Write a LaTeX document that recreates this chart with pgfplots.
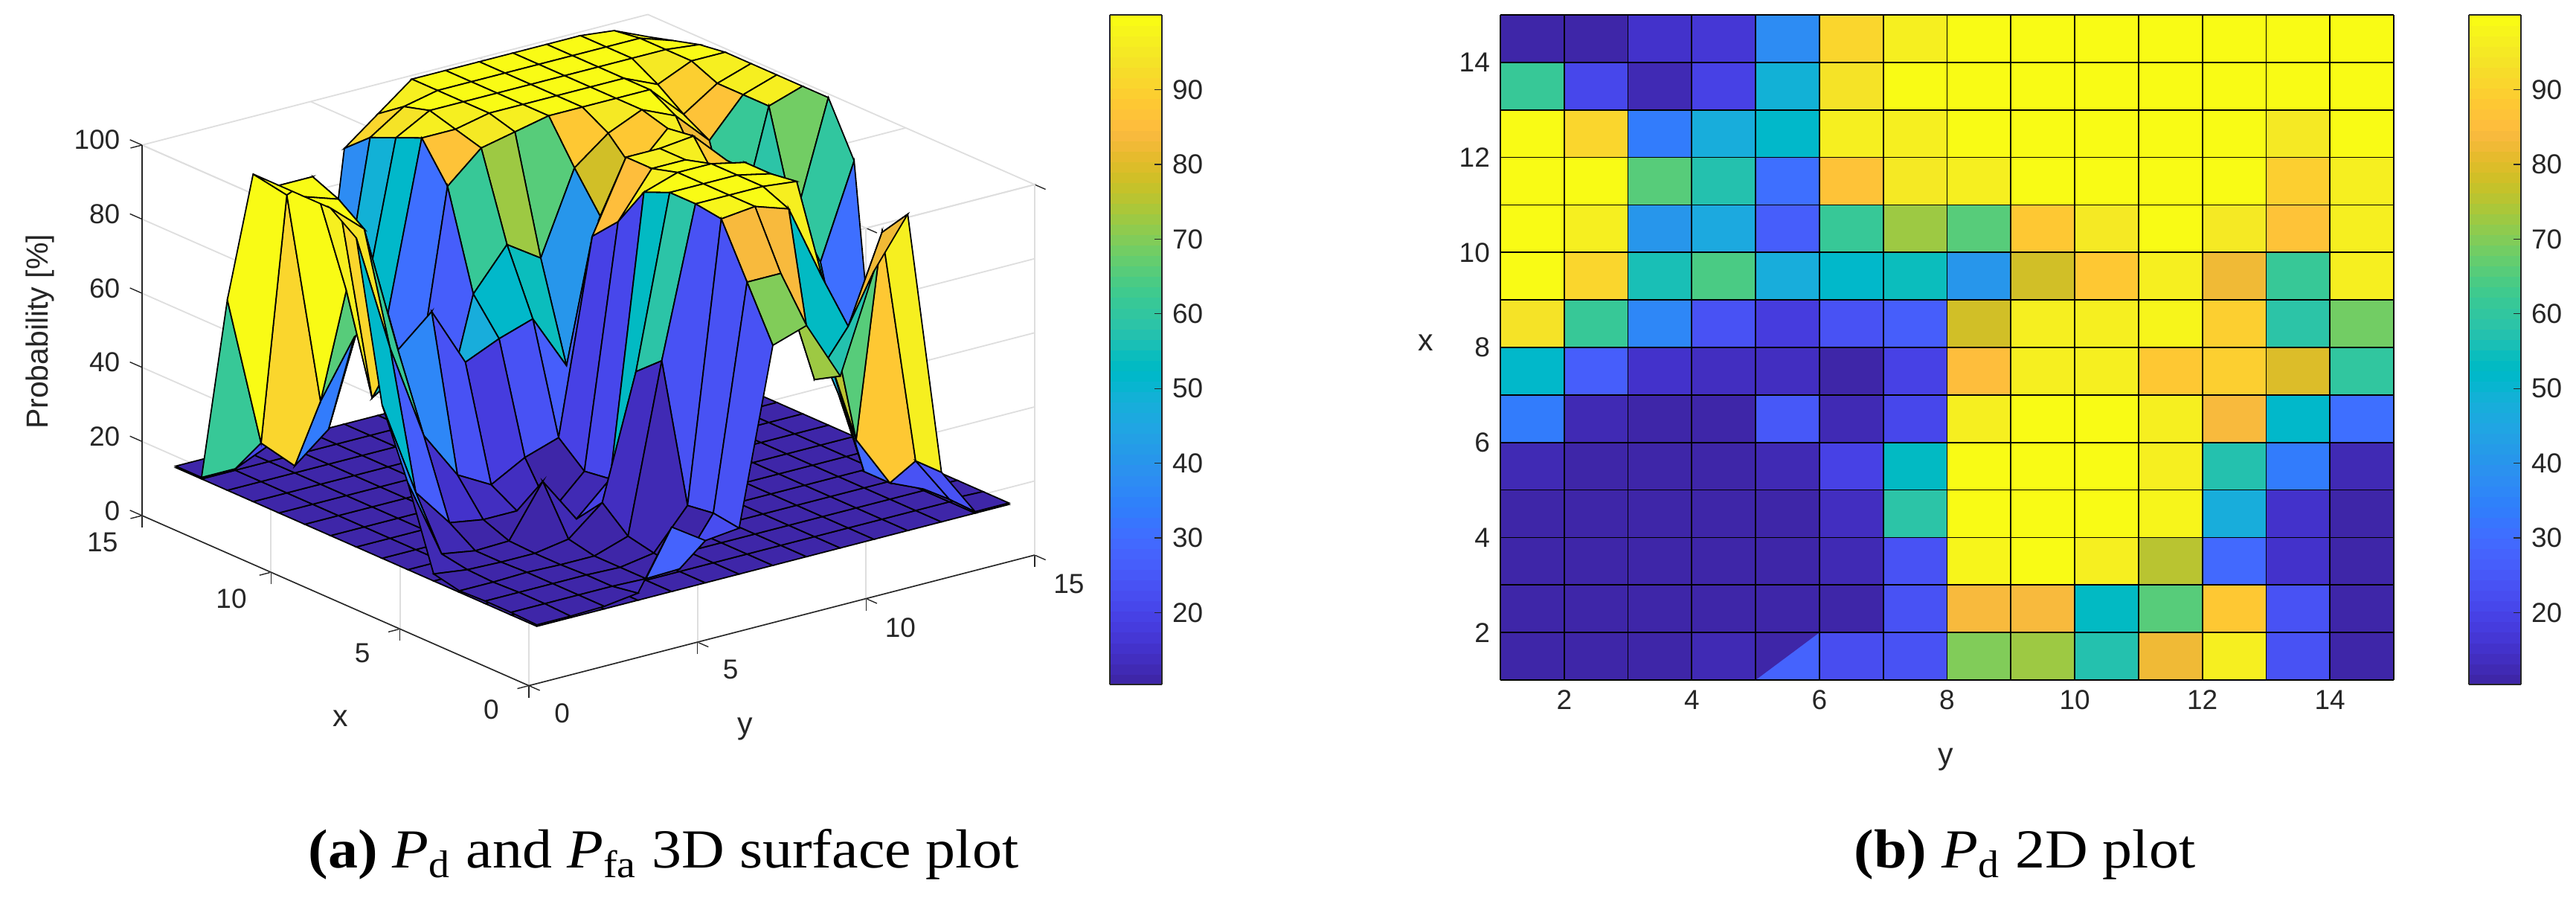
\documentclass[border=0pt]{standalone}
\usepackage{fontspec}
\usepackage{pgfplots}
\usepackage{pgfplotstable}
\pgfplotsset{compat=1.18}
\setmainfont{Liberation Sans}
\newfontfamily\capfont{Liberation Serif}
\definecolor{axc}{HTML}{262626}
\definecolor{darkcell}{rgb}{0.2422,0.1504,0.6603}
\pgfplotsset{colormap={parula}{
rgb=(0.2422,0.1504,0.6603) rgb=(0.2504,0.1650,0.7076) rgb=(0.2578,0.1818,0.7511) rgb=(0.2647,0.1978,0.7952)
rgb=(0.2706,0.2147,0.8364) rgb=(0.2751,0.2342,0.8710) rgb=(0.2783,0.2559,0.8991) rgb=(0.2803,0.2782,0.9221)
rgb=(0.2813,0.3006,0.9414) rgb=(0.2810,0.3228,0.9579) rgb=(0.2795,0.3447,0.9717) rgb=(0.2760,0.3667,0.9829)
rgb=(0.2699,0.3892,0.9906) rgb=(0.2602,0.4123,0.9952) rgb=(0.2440,0.4358,0.9988) rgb=(0.2206,0.4603,0.9973)
rgb=(0.1963,0.4847,0.9892) rgb=(0.1834,0.5074,0.9798) rgb=(0.1786,0.5289,0.9682) rgb=(0.1764,0.5499,0.9520)
rgb=(0.1687,0.5703,0.9359) rgb=(0.1540,0.5902,0.9218) rgb=(0.1460,0.6091,0.9079) rgb=(0.1380,0.6276,0.8973)
rgb=(0.1248,0.6459,0.8883) rgb=(0.1113,0.6635,0.8763) rgb=(0.0952,0.6798,0.8598) rgb=(0.0689,0.6948,0.8394)
rgb=(0.0297,0.7082,0.8163) rgb=(0.0036,0.7203,0.7917) rgb=(0.0067,0.7312,0.7660) rgb=(0.0433,0.7411,0.7394)
rgb=(0.0964,0.7500,0.7120) rgb=(0.1408,0.7584,0.6842) rgb=(0.1717,0.7670,0.6554) rgb=(0.1938,0.7758,0.6251)
rgb=(0.2161,0.7843,0.5923) rgb=(0.2470,0.7918,0.5567) rgb=(0.2906,0.7973,0.5188) rgb=(0.3406,0.8008,0.4789)
rgb=(0.3909,0.8029,0.4354) rgb=(0.4456,0.8024,0.3909) rgb=(0.5044,0.7993,0.3480) rgb=(0.5616,0.7942,0.3045)
rgb=(0.6174,0.7876,0.2612) rgb=(0.6720,0.7793,0.2227) rgb=(0.7242,0.7698,0.1910) rgb=(0.7738,0.7598,0.1646)
rgb=(0.8203,0.7498,0.1535) rgb=(0.8634,0.7406,0.1596) rgb=(0.9035,0.7330,0.1774) rgb=(0.9393,0.7288,0.2100)
rgb=(0.9728,0.7298,0.2394) rgb=(0.9956,0.7434,0.2371) rgb=(0.9970,0.7659,0.2199) rgb=(0.9952,0.7861,0.1990)
rgb=(0.9892,0.8135,0.1884) rgb=(0.9786,0.8386,0.1766) rgb=(0.9676,0.8639,0.1643) rgb=(0.9610,0.8890,0.1537)
rgb=(0.9597,0.9135,0.1423) rgb=(0.9628,0.9373,0.1265) rgb=(0.9691,0.9606,0.1064) rgb=(0.9769,0.9839,0.0805)
}}
% x y Pd Pfa
\pgfplotstableread[row sep=\\]{
x y pd pfa\\
1 1 11 10.6\\ 1 2 11 10.6\\ 1 3 11.3 10.6\\ 1 4 12.5 10.6\\ 1 5 28 10.6\\ 1 6 22 10.6\\ 1 7 23 10.6\\ 1 8 70 10.6\\ 1 9 73 10.6\\ 1 10 57 10.6\\ 1 11 83 10.6\\ 1 12 96 10.6\\ 1 13 24 10.6\\ 1 14 11 10.6\\ 1 15 11 10.6\\
2 1 11.3 10.6\\ 2 2 11.3 10.6\\ 2 3 11.3 10.6\\ 2 4 11.3 10.6\\ 2 5 11 10.6\\ 2 6 11.3 10.6\\ 2 7 24 10.6\\ 2 8 84 10.6\\ 2 9 84 10.6\\ 2 10 53 10.6\\ 2 11 65 10.6\\ 2 12 88 10.6\\ 2 13 24 10.6\\ 2 14 11.3 10.6\\ 2 15 11 10.6\\
3 1 11.3 10.6\\ 3 2 11.3 10.6\\ 3 3 11.3 10.6\\ 3 4 11.3 10.6\\ 3 5 11 10.6\\ 3 6 12.5 10.6\\ 3 7 23 10.6\\ 3 8 98 10.6\\ 3 9 99 10.6\\ 3 10 96 10.6\\ 3 11 75 10.6\\ 3 12 29 10.6\\ 3 13 15 10.6\\ 3 14 11 10.6\\ 3 15 11 10.6\\
4 1 11 10.6\\ 4 2 11 10.6\\ 4 3 11.3 10.6\\ 4 4 11 10.6\\ 4 5 11 10.6\\ 4 6 14 10.6\\ 4 7 59 10.6\\ 4 8 99 10.6\\ 4 9 99 10.6\\ 4 10 99 10.6\\ 4 11 98 10.6\\ 4 12 47 10.6\\ 4 13 15 10.6\\ 4 14 11.3 10.6\\ 4 15 11 10.6\\
5 1 12.5 10.6\\ 5 2 11.3 10.6\\ 5 3 11 10.6\\ 5 4 11 10.6\\ 5 5 12.5 10.6\\ 5 6 20 10.6\\ 5 7 53 10.6\\ 5 8 99 10.6\\ 5 9 99 10.6\\ 5 10 99 10.6\\ 5 11 97 10.6\\ 5 12 57 10.6\\ 5 13 33 10.6\\ 5 14 12.5 10.6\\ 5 15 11 10.6\\
6 1 34 10.6\\ 6 2 12.5 10.6\\ 6 3 11 10.6\\ 6 4 11.3 10.6\\ 6 5 25 10.6\\ 6 6 12.5 10.6\\ 6 7 21 10.6\\ 6 8 96 10.6\\ 6 9 99 10.6\\ 6 10 99 10.6\\ 6 11 97 10.6\\ 6 12 84 10.6\\ 6 13 51 10.6\\ 6 14 31 10.6\\ 6 15 11 10.6\\
7 1 52 10.6\\ 7 2 26 10.6\\ 7 3 15.5 10.6\\ 7 4 14 10.6\\ 7 5 14 10.6\\ 7 6 11.3 10.6\\ 7 7 20 10.6\\ 7 8 85 10.6\\ 7 9 97 10.6\\ 7 10 97 10.6\\ 7 11 88 10.6\\ 7 12 89 10.6\\ 7 13 80 10.6\\ 7 14 60 10.6\\ 7 15 85 10.6\\
8 1 94 10.6\\ 8 2 62 10.6\\ 8 3 36 10.6\\ 8 4 23 10.6\\ 8 5 18 10.6\\ 8 6 23 10.6\\ 8 7 26 10.6\\ 8 8 78 10.6\\ 8 9 97 10.6\\ 8 10 97 10.6\\ 8 11 98 10.6\\ 8 12 89 10.6\\ 8 13 59 10.6\\ 8 14 68 10.6\\ 8 15 99 10.6\\
9 1 99 10.6\\ 9 2 91 10.6\\ 9 3 56 10.6\\ 9 4 64 10.6\\ 9 5 48 10.6\\ 9 6 52 10.6\\ 9 7 55 10.6\\ 9 8 40 10.6\\ 9 9 78 10.6\\ 9 10 88 10.6\\ 9 11 97 10.6\\ 9 12 83 10.6\\ 9 13 62 10.6\\ 9 14 96 10.6\\ 9 15 99 10.6\\
10 1 99 10.6\\ 10 2 96 10.6\\ 10 3 40 10.6\\ 10 4 46 10.6\\ 10 5 26 10.6\\ 10 6 61 10.6\\ 10 7 72 10.6\\ 10 8 66 10.6\\ 10 9 88 10.6\\ 10 10 95 10.6\\ 10 11 99 10.6\\ 10 12 95 10.6\\ 10 13 86 10.6\\ 10 14 96 10.6\\ 10 15 99 10.6\\
11 1 99 10.6\\ 11 2 99 10.6\\ 11 3 66 10.6\\ 11 4 57 10.6\\ 11 5 30 10.6\\ 11 6 87 10.6\\ 11 7 95 10.6\\ 11 8 97 10.6\\ 11 9 99 10.6\\ 11 10 99 10.6\\ 11 11 99 10.6\\ 11 12 99 10.6\\ 11 13 90 10.6\\ 11 14 96 10.6\\ 11 15 99 10.6\\
12 1 99 10.6\\ 12 2 91 10.6\\ 12 3 33 10.6\\ 12 4 48 10.6\\ 12 5 52 10.6\\ 12 6 97 10.6\\ 12 7 97 10.6\\ 12 8 99 10.6\\ 12 9 99 10.6\\ 12 10 99 10.6\\ 12 11 99 10.6\\ 12 12 99 10.6\\ 12 13 95 10.6\\ 12 14 99 10.6\\ 12 15 99 10.6\\
13 1 62 10.6\\ 13 2 21 10.6\\ 13 3 12.5 10.6\\ 13 4 20 10.6\\ 13 5 49 10.6\\ 13 6 94 10.6\\ 13 7 99 10.6\\ 13 8 99 10.6\\ 13 9 99 10.6\\ 13 10 99 10.6\\ 13 11 99 10.6\\ 13 12 99 10.6\\ 13 13 99 10.6\\ 13 14 99 10.6\\ 13 15 98 10.6\\
14 1 11 10.6\\ 14 2 11 10.6\\ 14 3 15 10.6\\ 14 4 17 10.6\\ 14 5 38 10.6\\ 14 6 91 10.6\\ 14 7 97 10.6\\ 14 8 99 10.6\\ 14 9 99 10.6\\ 14 10 99 10.6\\ 14 11 99 10.6\\ 14 12 99 10.6\\ 14 13 99 10.6\\ 14 14 99 10.6\\ 14 15 96 10.6\\
15 1 11 10.6\\ 15 2 11 10.6\\ 15 3 11 10.6\\ 15 4 11 10.6\\ 15 5 11 10.6\\ 15 6 85 10.6\\ 15 7 92 10.6\\ 15 8 99 10.6\\ 15 9 99 10.6\\ 15 10 99 10.6\\ 15 11 99 10.6\\ 15 12 99 10.6\\ 15 13 99 10.6\\ 15 14 98 10.6\\ 15 15 94 10.6\\
}\pdtable
\pgfplotsset{
  common/.style={
    colormap name=parula, colormap access=piecewise constant,
    point meta min=10.4, point meta max=100,
    tick label style={font=\fontsize{9.25}{11}\selectfont, text=axc},
    label style={font=\fontsize{10.25}{12}\selectfont, text=axc},
    /pgf/number format/assume math mode=true,
    every tick/.style={draw=axc, line width=0.35pt},
  },
  cbar/.style={
    common, hide axis, scale only axis, width=17.5pt, height=225pt,
    xmin=0, xmax=1, ymin=0, ymax=1,
    colorbar shift/.style={},
    colorbar, colorbar sampled,
    colorbar style={
      at={(parent axis.south west)}, anchor=south west,
      width=17.5pt, height=225pt, samples=65,
      ymin=10.4, ymax=100, ytick={20,30,...,90},
      ytick pos=right, yticklabel pos=right, ytick align=inside,
      major tick length=2.5pt,
      axis line style={draw=axc, line width=0.4pt},
      tick label style={font=\fontsize{9.25}{11}\selectfont, text=axc},
      /pgf/number format/assume math mode=true,
    },
  },
}
\def\u{0.25pt}
\begin{document}
\begin{tikzpicture}
\path[use as bounding box] (0,0) rectangle (865.75pt,301.75pt);
% ---- 3D surface
\begin{axis}[common,
  at={(711*\u,{(1207-921.6)*\u})}, anchor=origin,
  x={(-8.6675pt,3.81pt)}, y={(11.3325pt,2.925pt)}, z={(0pt,1.245pt)},
  xmin=0, xmax=15, ymin=0, ymax=15, zmin=0, zmax=100,
  xtick={0,5,10,15}, ytick={0,5,10,15}, ztick={0,20,...,100},
  xtick pos=left, ytick pos=left, ztick pos=left,
  grid=major, grid style={draw=black!13, line width=0.45pt},
  axis line style={draw=none}, clip=false, tick align=outside, major tick length=4pt,
  ztick style={draw=none},
  xticklabel style={xshift=-3.3pt},
  yticklabel style={xshift=2.8pt,yshift=-0.5pt},
  zticklabel style={yshift=2pt},
  xlabel={x}, ylabel={y}, zlabel={Probability [\%]},
  xlabel style={at={(axis cs:0.885,-4.9,0)},anchor=center,rotate=0},
  ylabel style={at={(axis cs:-5.52,2.2,0)},anchor=center,rotate=0},
  zlabel style={at={(axis cs:15,-3.02,56.7)},anchor=center,rotate=0},
  unbounded coords=jump,
]
\addplot3[draw=axc, line width=0.4pt, forget plot] coordinates {(0,0,0)(15,0,0)};
\addplot3[draw=axc, line width=0.4pt, forget plot] coordinates {(0,0,0)(0,15,0)};
\addplot3[draw=axc, line width=0.4pt, forget plot] coordinates {(15,0,0)(15,0,100)};
\addplot3[draw=axc, line width=0.35pt, forget plot] coordinates {
 (15,0,0)(15.47,0,0) (nan,nan,nan)
 (15,0,20)(15.47,0,20) (nan,nan,nan)
 (15,0,40)(15.47,0,40) (nan,nan,nan)
 (15,0,60)(15.47,0,60) (nan,nan,nan)
 (15,0,80)(15.47,0,80) (nan,nan,nan)
 (15,0,100)(15.47,0,100)};
\addplot3[surf, shader=flat corner, draw=black, line width=0.45pt, mesh/ordering=y varies, mesh/rows=15, mesh/cols=15, z buffer=default]
  table[x=x,y=y,z=pfa] {\pdtable};
\addplot3[surf, shader=flat corner, draw=black, line width=0.45pt, mesh/ordering=y varies, mesh/rows=15, mesh/cols=15, z buffer=reverse xy seq]
  table[x=x,y=y,z=pd] {\pdtable};
\end{axis}
\begin{axis}[cbar, at={(1492*\u,{(1207-920)*\u})}, anchor=south west]
\end{axis}
% ---- 2D map
\begin{axis}[common,
  at={(2017*\u,{(1207-914)*\u})}, anchor=south west, scale only axis,
  width=300.25pt, height=223.5pt, view={0}{90},
  xmin=1, xmax=15, ymin=1, ymax=15,
  xtick={2,4,...,14}, ytick={2,4,...,14}, major tick length=0pt,
  axis line style={draw=black, line width=0.45pt},
  xlabel={y}, ylabel={x},
  xlabel style={at={(axis description cs:0.4988,-0.1197)},anchor=center},
  ylabel style={at={(axis description cs:-0.0833,0.5067)},anchor=center,rotate=-90},
]
\addplot3[surf, shader=flat corner, draw=black, line width=0.45pt, mesh/ordering=x varies, mesh/rows=15, mesh/cols=15, z buffer=default]
  table[x=y,y=x,z=pd] {\pdtable};
\addplot3[fill=darkcell, draw=none, forget plot] coordinates {(5,1,100)(5,2,100)(6,2,100)};
\addplot3[draw=black, line width=0.45pt, forget plot] coordinates {(5,1,100)(5,2,100)(6,2,100)};
\end{axis}
\begin{axis}[cbar, at={(3319*\u,{(1207-920)*\u})}, anchor=south west]
\end{axis}
% ---- captions
\node[anchor=base, font=\capfont\fontsize{18.5}{20}\selectfont] at (892*\u,{(1207-1167)*\u}) {\scalebox{1.08}[1]{\textbf{(a)} \textit{P}\textsubscript{d} and \textit{P}\textsubscript{fa} 3D surface plot}};
\node[anchor=base, font=\capfont\fontsize{18.5}{20}\selectfont] at (2722*\u,{(1207-1167)*\u}) {\scalebox{1.08}[1]{\textbf{(b)} \textit{P}\textsubscript{d} 2D plot}};
\end{tikzpicture}
\end{document}
